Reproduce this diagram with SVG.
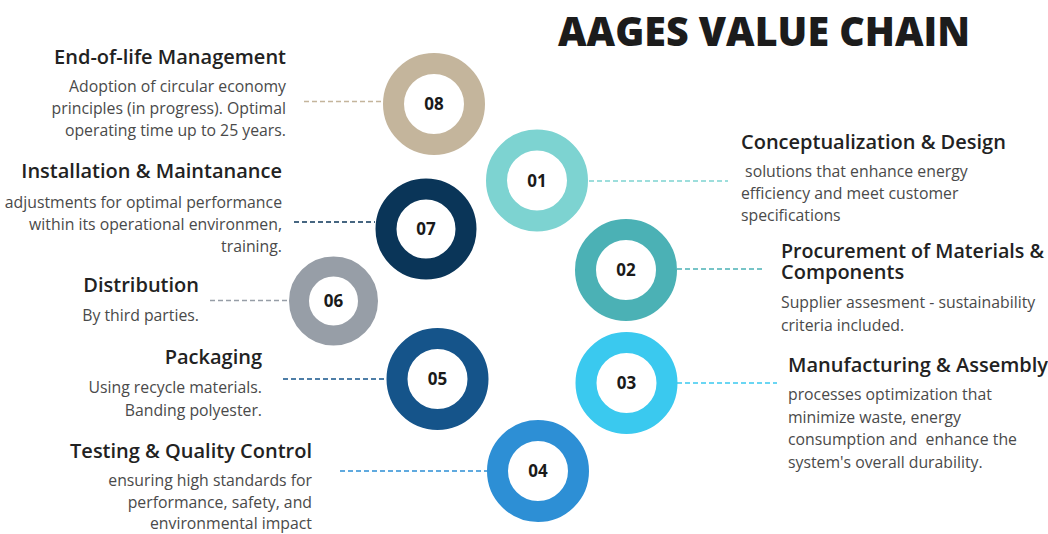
<svg xmlns="http://www.w3.org/2000/svg" width="1048" height="534" viewBox="0 0 1048 534">
<style>
.title{font-family:"Open Sans","Liberation Sans",sans-serif;font-weight:800;font-size:40px;fill:#1c1c1c}
.h{font-family:"Open Sans","Liberation Sans",sans-serif;font-weight:600;font-size:20px;fill:#222}
.b{font-family:"Open Sans","Liberation Sans",sans-serif;font-weight:400;font-size:15.8px;fill:#4a4a4a}
.r{text-anchor:end}
.n{font-family:"Open Sans","Liberation Sans",sans-serif;font-weight:700;font-size:17px;fill:#1a1a1a;text-anchor:middle}
.ring{fill:none}
.dash{stroke-width:1.5;stroke-dasharray:5 3;fill:none}
</style>
<rect width="1048" height="534" fill="#ffffff"/>
<text class="title" x="558" y="46" textLength="412" lengthAdjust="spacingAndGlyphs">AAGES VALUE CHAIN</text>
<g id="connectors">
<line class="dash" x1="304" y1="101.5" x2="383" y2="101.5" stroke="#c4b59c"/>
<line class="dash" x1="589" y1="181" x2="728" y2="181" stroke="#7dd3d1"/>
<line class="dash" x1="677" y1="269" x2="764" y2="269" stroke="#4bb1b5"/>
<line class="dash" x1="677" y1="383" x2="777" y2="383" stroke="#3ac9ef"/>
<line class="dash" x1="340" y1="471" x2="487" y2="471" stroke="#2d8fd5"/>
<line class="dash" x1="283" y1="379" x2="387" y2="379" stroke="#15548a"/>
<line class="dash" x1="210" y1="300.5" x2="289" y2="300.5" stroke="#979ea7"/>
<line class="dash" x1="294" y1="222" x2="375" y2="222" stroke="#0a3558"/>
</g>
<g id="node08">
<circle class="ring" cx="434" cy="104" r="40.5" stroke="#c4b59c" stroke-width="21"/>
<text class="n" x="434" y="110">08</text>
<text class="h r" x="286" y="64">End-of-life Management</text>
<text class="b r" x="286" y="92">Adoption of circular economy</text>
<text class="b r" x="286" y="114">principles (in progress). Optimal</text>
<text class="b r" x="286" y="136">operating time up to 25 years.</text>
</g>
<g id="node01">
<circle class="ring" cx="537" cy="180.5" r="40.5" stroke="#7dd3d1" stroke-width="21"/>
<text class="n" x="537" y="187">01</text>
<text class="h" x="741" y="149">Conceptualization &amp; Design</text>
<text class="b" x="741" y="177" xml:space="preserve"> solutions that enhance energy</text>
<text class="b" x="741" y="199">efficiency and meet customer</text>
<text class="b" x="741" y="221">specifications</text>
</g>
<g id="node02">
<circle class="ring" cx="626" cy="270" r="40.5" stroke="#4bb1b5" stroke-width="21"/>
<text class="n" x="626" y="276">02</text>
<text class="h"><tspan x="781" y="258" textLength="263" lengthAdjust="spacingAndGlyphs">Procurement of Materials &amp;</tspan><tspan x="781" y="279">Components</tspan></text>
<text class="b" x="781" y="308">Supplier assesment - sustainability</text>
<text class="b" x="781" y="331">criteria included.</text>
</g>
<g id="node03">
<circle class="ring" cx="626.5" cy="383" r="40.5" stroke="#3ac9ef" stroke-width="21"/>
<text class="n" x="626.5" y="389">03</text>
<text class="h" x="788" y="372">Manufacturing &amp; Assembly</text>
<text class="b" x="788" y="400">processes optimization that</text>
<text class="b" x="788" y="423">minimize waste, energy</text>
<text class="b" x="788" y="445" xml:space="preserve">consumption and  enhance the</text>
<text class="b" x="788" y="468">system's overall durability.</text>
</g>
<g id="node04">
<circle class="ring" cx="538" cy="471" r="40.5" stroke="#2d8fd5" stroke-width="21"/>
<text class="n" x="538" y="477">04</text>
<text class="h r" x="312" y="458">Testing &amp; Quality Control</text>
<text class="b r" x="312" y="486">ensuring high standards for</text>
<text class="b r" x="312" y="508">performance, safety, and</text>
<text class="b r" x="312" y="529">environmental impact</text>
</g>
<g id="node05">
<circle class="ring" cx="437.5" cy="379" r="40.5" stroke="#15548a" stroke-width="21"/>
<text class="n" x="437.5" y="385">05</text>
<text class="h r" x="262" y="364">Packaging</text>
<text class="b r" x="262" y="393">Using recycle materials.</text>
<text class="b r" x="262" y="416">Banding polyester.</text>
</g>
<g id="node06">
<circle class="ring" cx="333.5" cy="301" r="34.5" stroke="#979ea7" stroke-width="20"/>
<text class="n" x="333.5" y="307">06</text>
<text class="h r" x="199" y="292">Distribution</text>
<text class="b r" x="199" y="321">By third parties.</text>
</g>
<g id="node07">
<circle class="ring" cx="426" cy="229" r="40" stroke="#0a3558" stroke-width="21"/>
<text class="n" x="426" y="235">07</text>
<text class="h r" x="282" y="178">Installation &amp; Maintanance</text>
<text class="b r" x="282" y="208">adjustments for optimal performance</text>
<text class="b r" x="282" y="230">within its operational environmen,</text>
<text class="b r" x="282" y="252">training.</text>
</g>
</svg>
